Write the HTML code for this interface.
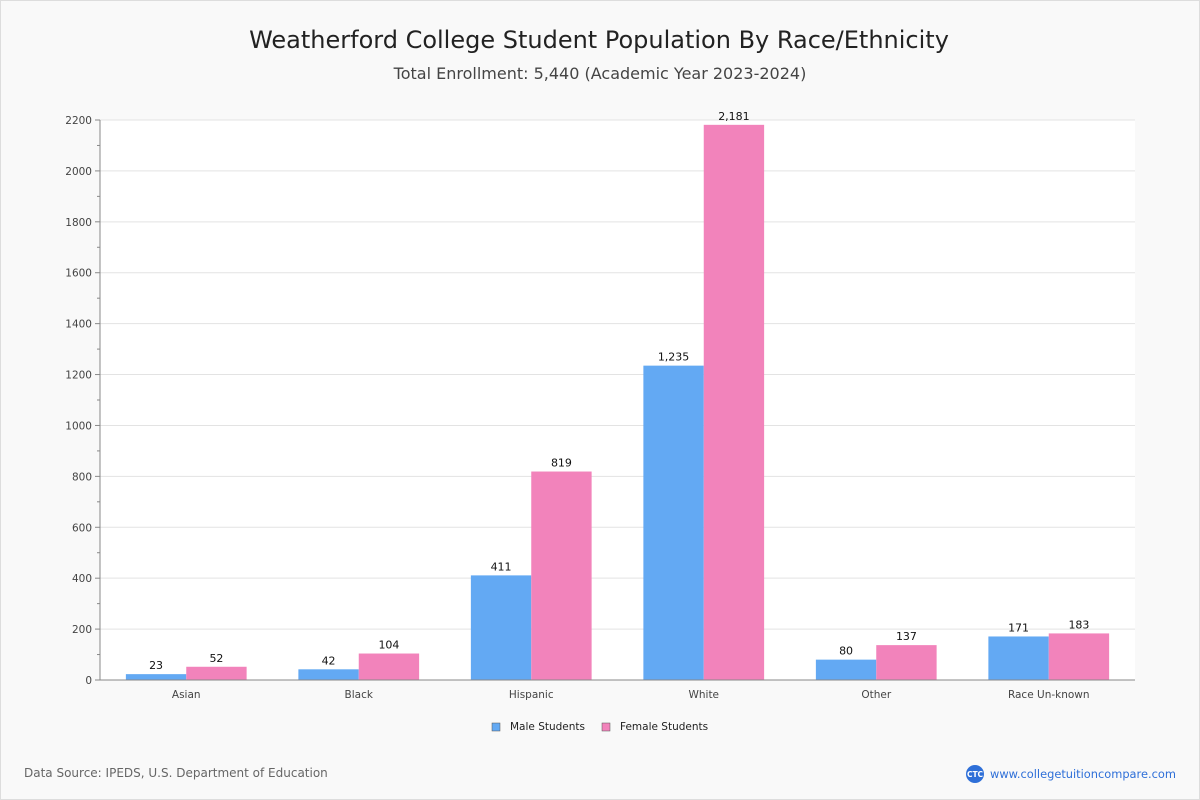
<!DOCTYPE html>
<html><head><meta charset="utf-8">
<style>
body{margin:0;width:1200px;height:800px;background:#f9f9f9;font-family:"DejaVu Sans","Liberation Sans",sans-serif;overflow:hidden}
#frame{position:absolute;left:0;top:0;width:1198px;height:798px;border:1px solid #ddd}
</style></head>
<body>
<div id="frame"></div>
<svg id="chart" width="1200" height="800" style="position:absolute;left:0;top:0">
<text x="599" y="48" text-anchor="middle" font-size="24" fill="#222">Weatherford College Student Population By Race/Ethnicity</text>
<text x="600" y="79" text-anchor="middle" font-size="16" fill="#444">Total Enrollment: 5,440 (Academic Year 2023-2024)</text>
<rect x="100" y="120" width="1035" height="560" fill="#fff"/>
<g id="grid"></g><g id="bars"></g><g id="axes"></g>
<g>
<rect x="492" y="723" width="8" height="8" fill="#63a9f3" stroke="#555" stroke-width="0.5"/>
<text x="510" y="730" font-size="10.5" fill="#222">Male Students</text>
<rect x="602" y="723" width="8" height="8" fill="#f283bb" stroke="#555" stroke-width="0.5"/>
<text x="620" y="730" font-size="10.5" fill="#222">Female Students</text>
</g>
<text x="24" y="777" font-size="12" fill="#666">Data Source: IPEDS, U.S. Department of Education</text>
<circle cx="975" cy="774" r="9" fill="#2e6fd8"/>
<text x="975" y="777" text-anchor="middle" font-size="7.5" fill="#fff" font-weight="bold">CTC</text>
<text x="990" y="778" font-size="11.4" fill="#2e6fd8">www.collegetuitioncompare.com</text>
</svg>
<script>
const categories=["Asian","Black","Hispanic","White","Other","Race Un-known"];
const maleValues=[23,42,411,1235,80,171];
const femaleValues=[52,104,819,2181,137,183];
const yTicks=[0,200,400,600,800,1000,1200,1400,1600,1800,2000,2200];
const NS="http://www.w3.org/2000/svg";
const L=100,R=1135,T=120,B=680,YMAX=2200;
const y=v=>B-(v/YMAX)*(B-T);
const band=(R-L)/categories.length;
const x=i=>L+band*(i+0.5);
const bw=band*0.35;
function mk(tag,attrs,parent,txt){const e=document.createElementNS(NS,tag);for(const k in attrs)e.setAttribute(k,attrs[k]);if(txt!==undefined)e.textContent=txt;document.getElementById(parent).appendChild(e);return e;}
yTicks.forEach(t=>{
 const g=mk('line',{x1:L,x2:R,y1:y(t),y2:y(t),stroke:'#e3e3e3'},'grid');
 
 
 const tk=mk('line',{x1:95,x2:100,y1:y(t),y2:y(t),stroke:'#888'},'axes');
 
 
 const lb=mk('text',{x:92,y:y(t)+4,'text-anchor':'end','font-size':10.5,fill:'#444'},'axes',t);
 
 
});
for(let i=0;i<yTicks.length-1;i++){const m=(yTicks[i]+yTicks[i+1])/2;
 const mt=mk('line',{x1:97,x2:100,y1:y(m),y2:y(m),stroke:'#888'},'axes');
 
 }
const ya=mk('line',{x1:L,x2:L,y1:T,y2:B,stroke:'#888'},'axes');


const xa=mk('line',{x1:L,x2:R,y1:B,y2:B,stroke:'#888'},'axes');


const fmt=v=>v.toLocaleString('en-US');
categories.forEach((c,i)=>{
 const cx=x(i);
 [[maleValues[i],cx-bw,'#63a9f3','male'],[femaleValues[i],cx,'#f283bb','female']].forEach(([v,bx,col,s])=>{
  const r=mk('rect',{x:bx,y:y(v),width:bw,height:B-y(v),fill:col},'bars');
  
  
  const t=mk('text',{x:bx+bw/2,y:y(v)-5,'text-anchor':'middle','font-size':11,fill:'#111'},'bars',fmt(v));
  
  
 });
 const xl=mk('text',{x:cx,y:698,'text-anchor':'middle','font-size':10.5,fill:'#444'},'axes',c);
 
 
});
</script>
</body></html>
